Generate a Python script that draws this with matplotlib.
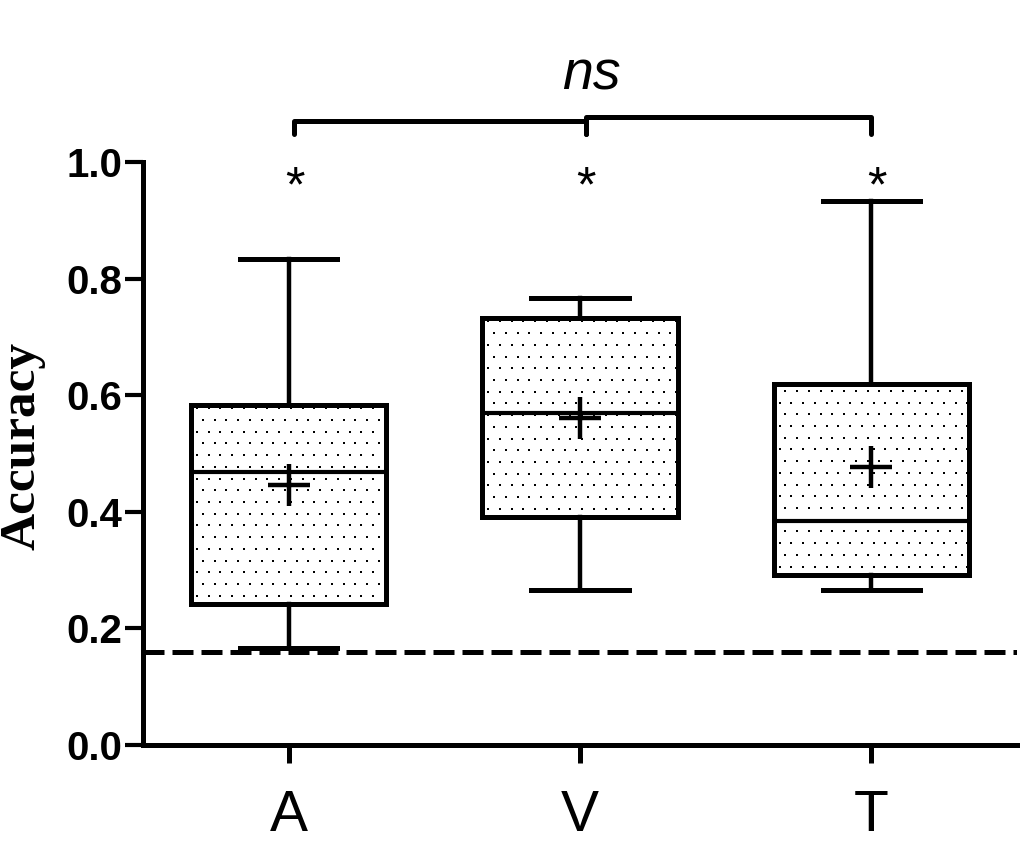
import numpy as np
import matplotlib
matplotlib.use("Agg")
import matplotlib.pyplot as plt

# ---- data ----
categories = ["A", "V", "T"]
whislo = [0.166, 0.266, 0.266]
q1 = [0.242, 0.391, 0.292]
med = [0.468, 0.569, 0.384]
q3 = [0.583, 0.732, 0.619]
whishi = [0.834, 0.767, 0.933]
means = [0.446, 0.561, 0.477]
chance_level = 0.16
star_labels = ["*", "*", "*"]
bracket_label = "ns"
yticks = [0.0, 0.2, 0.4, 0.6, 0.8, 1.0]

fig = plt.figure(figsize=(10.22, 8.5), dpi=100)
ax = fig.add_axes([143/1022, 1-745/850, (1017-143)/1022, (745-162)/850])

positions = [1, 2, 3]
stats = []
for i, c in enumerate(categories):
    stats.append(dict(label=c, whislo=whislo[i], q1=q1[i], med=med[i], q3=q3[i],
                      whishi=whishi[i], mean=means[i], fliers=[]))

box_w = 0.67
lw = 3.6
res = ax.bxp(stats, positions=positions, widths=box_w, showmeans=True, patch_artist=True,
             boxprops=dict(facecolor="white", edgecolor="black", linewidth=lw),
             medianprops=dict(color="black", linewidth=3.0),
             whiskerprops=dict(color="black", linewidth=3.2),
             capprops=dict(color="black", linewidth=3.6),
             capwidths=box_w/2,
             meanprops=dict(marker="+", markersize=30, markeredgewidth=3.2,
                            markeredgecolor="black", markerfacecolor="black"),
             zorder=3)

# dotted texture inside boxes
ax.set_xlim(0.5, 3.5)
ax.set_ylim(0, 1.0)
dx = 0.0403
dy = 0.0201
for i, patch in enumerate(res["boxes"]):
    x0 = positions[i] - box_w/2
    x1 = positions[i] + box_w/2
    pts_x, pts_y = [], []
    ys = np.arange(q1[i] + dy*0.7, q3[i], dy)
    for r, yy in enumerate(ys):
        off = dx/2 if r % 2 else 0.0
        xs = np.arange(x0 + dx*0.5 + off, x1, dx)
        pts_x.extend(xs)
        pts_y.extend([yy]*len(xs))
    ln, = ax.plot(pts_x, pts_y, ls="none", marker="s", ms=1.6, mew=0,
                  color="black", zorder=3.5)
    ln.set_clip_path(patch)

for b in res["boxes"]:
    b.set_zorder(3)
for m in res["medians"]:
    m.set_zorder(4)
for m in res["means"]:
    m.set_zorder(5)

# chance line
ax.axhline(chance_level, color="black", linewidth=3.6, dashes=(4.2, 1.6), zorder=2)

# stars
for p, s in zip(positions, star_labels):
    ax.text(p + 0.02, 0.932, s, ha="center", va="baseline", fontsize=36,
            fontfamily="Liberation Sans")

# brackets
def bracket(xa, xb, y, drop):
    ax.plot([xa, xa, xb, xb], [y - drop, y, y, y - drop], color="black",
            linewidth=3.6, solid_capstyle="round", solid_joinstyle="round",
            clip_on=False)

bracket(1.02, 2.02, 1.070, 0.022)
bracket(2.02, 3.0, 1.077, 0.029)
ax.text(2.04, 1.1235, bracket_label, ha="center", va="baseline", fontsize=40,
        fontstyle="italic", fontfamily="Liberation Sans")

# axes style
for side in ["top", "right"]:
    ax.spines[side].set_visible(False)
for side in ["left", "bottom"]:
    ax.spines[side].set_linewidth(3.6)

ax.set_yticks(yticks)
ax.set_yticklabels([f"{v:.1f}" for v in yticks], fontsize=29,
                   fontfamily="Liberation Sans", fontweight="bold")
ax.tick_params(axis="y", direction="out", length=13, width=3, pad=2)
ax.set_xticks(positions)
ax.set_xticklabels(categories, fontsize=41, fontfamily="Liberation Sans")
ax.tick_params(axis="x", direction="out", length=13, width=3.6, pad=19)

ax.set_ylabel("Accuracy", fontsize=37, fontfamily="Liberation Serif",
              fontweight="bold")
ax.yaxis.set_label_coords(-0.112, 0.513)

fig.savefig("out.png", dpi=100)
